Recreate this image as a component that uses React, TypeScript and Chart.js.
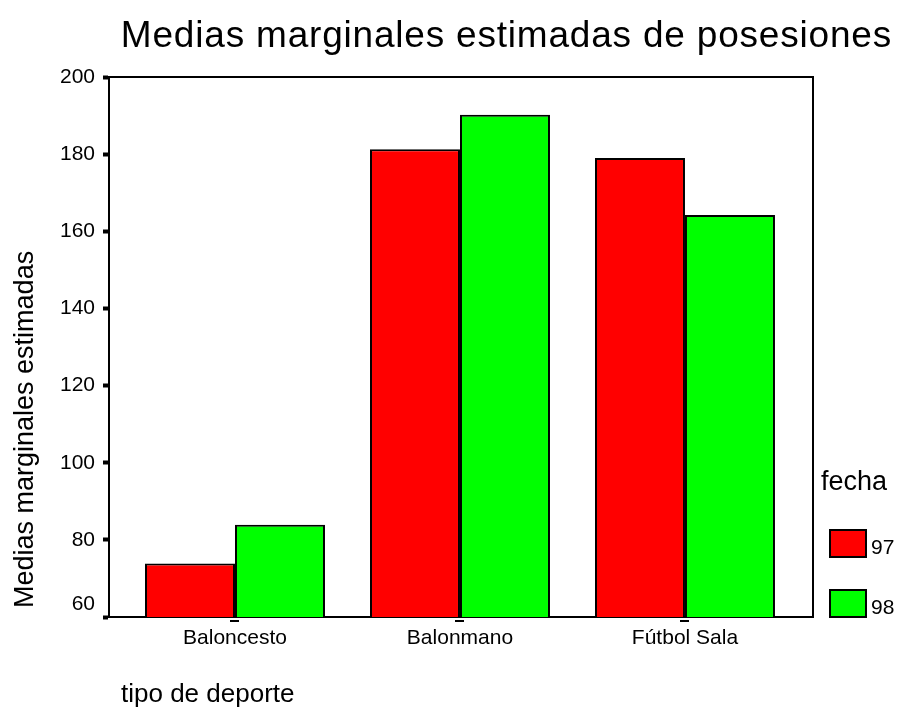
import React, { useEffect, useRef } from 'react';
import { Chart, registerables } from 'chart.js';

Chart.register(...registerables);

const categories = ['Baloncesto', 'Balonmano', 'Fútbol Sala'];
const seriesLabels = ['97', '98'];
const values97 = [73.9, 181.3, 179.0];
const values98 = [83.9, 190.2, 164.2];
const yTicks = [60, 80, 100, 120, 140, 160, 180, 200];
const seriesColors = ['#ff0000', '#00ff00'];
const chartTitle = 'Medias marginales estimadas de posesiones';
const yTitle = 'Medias marginales estimadas';
const xTitle = 'tipo de deporte';
const legendTitle = 'fecha';

const FONT = '"Liberation Sans", Arial, Helvetica, sans-serif';

const decorPlugin = {
  id: 'decor',
  afterDraw(chart: any) {
    const { ctx, chartArea } = chart;
    ctx.save();
    // frame (top and right)
    ctx.strokeStyle = '#000';
    ctx.lineWidth = 2;
    ctx.beginPath();
    ctx.moveTo(chartArea.left, chartArea.top);
    ctx.lineTo(chartArea.right, chartArea.top);
    ctx.lineTo(chartArea.right, chartArea.bottom);
    ctx.stroke();

    ctx.fillStyle = '#000';
    // main title
    ctx.font = `37px ${FONT}`;
    try { (ctx as any).letterSpacing = '0.8px'; } catch (e) {}
    ctx.textAlign = 'right';
    ctx.textBaseline = 'alphabetic';
    ctx.fillText(chartTitle, 892, 47);
    try { (ctx as any).letterSpacing = '0px'; } catch (e) {}

    // y title
    ctx.save();
    ctx.translate(33, 608);
    ctx.rotate(-Math.PI / 2);
    ctx.font = `27px ${FONT}`;
    ctx.textAlign = 'left';
    ctx.fillText(yTitle, 0, 0);
    ctx.restore();

    // x title
    ctx.font = `26px ${FONT}`;
    ctx.textAlign = 'left';
    ctx.fillText(xTitle, 121, 702);

    // legend
    ctx.font = `27px ${FONT}`;
    ctx.fillText(legendTitle, 821, 490);
    const tops = [529, 589];
    chart.data.datasets.forEach((ds: any, i: number) => {
      const y = tops[i];
      ctx.fillStyle = ds.backgroundColor;
      ctx.fillRect(830, y + 1, 36, 27);
      ctx.strokeStyle = '#000';
      ctx.lineWidth = 2;
      ctx.strokeRect(830, y + 1, 36, 27);
      ctx.fillStyle = '#000';
      ctx.font = `21px ${FONT}`;
      ctx.fillText(ds.label, 871, y + 25);
    });
    ctx.restore();
  },
};

export default function App() {
  const canvasRef = useRef<HTMLCanvasElement | null>(null);

  useEffect(() => {
    if (!canvasRef.current) return;
    Chart.defaults.font.family = FONT;
    Chart.defaults.color = '#000';
    const chart = new Chart(canvasRef.current, {
      type: 'bar',
      data: {
        datasets: [values97, values98].map((vals, s) => ({
          label: seriesLabels[s],
          data: categories.map((_, i) => ({ x: i, y: vals[i] })),
          backgroundColor: seriesColors[s],
          borderColor: '#000',
          borderWidth: 2,
          borderSkipped: 'start',
          categoryPercentage: 0.8,
          barPercentage: 1.0,
        })),
      },
      options: {
        animation: false,
        responsive: false,
        devicePixelRatio: 1,
        layout: { padding: { left: 0, right: 84, top: 77, bottom: 0 } },
        plugins: {
          legend: { display: false },
          tooltip: { enabled: false },
          title: { display: false },
        },
        scales: {
          x: {
            type: 'linear',
            min: -0.56,
            max: 2.569,
            offset: false,
            afterFit: (scale: any) => { scale.height = 105; },
            afterBuildTicks: (scale: any) => {
              scale.ticks = categories.map((_, i) => ({ value: i }));
            },
            ticks: {
              autoSkip: false,
              maxRotation: 0,
              padding: 4,
              font: { size: 21 },
              color: '#000',
              callback: (v: any) => categories[Math.round(Number(v))] ?? '',
            },
            grid: {
              offset: false,
              drawOnChartArea: false,
              drawTicks: true,
              tickLength: 5,
              tickWidth: 9,
              tickColor: '#000',
              tickBorderDash: [0, 2, 3, 10],
            },
            border: { display: true, color: '#000', width: 2 },
          },
          y: {
            type: 'linear',
            min: 60,
            max: 200,
            beginAtZero: false,
            afterFit: (scale: any) => { scale.width = 109; },
            afterBuildTicks: (scale: any) => {
              scale.ticks = yTicks.map((v) => ({ value: v }));
            },
            ticks: {
              padding: 8,
              font: { size: 21 },
              color: '#000',
              callback: (v: any) => (Number(v) === yTicks[0] ? [String(v), ''] : String(v)),
            },
            grid: {
              drawOnChartArea: false,
              drawTicks: true,
              tickLength: 6,
              tickWidth: 4,
              tickColor: '#000',
            },
            border: { display: true, color: '#000', width: 2 },
          },
        },
      },
      plugins: [decorPlugin],
    } as any);
    return () => chart.destroy();
  }, []);

  return (
    <div style={{ position: 'absolute', left: 0, top: 0, width: 897, height: 722, background: '#fff' }}>
      <canvas ref={canvasRef} width={897} height={722} style={{ display: 'block' }} />
    </div>
  );
}
